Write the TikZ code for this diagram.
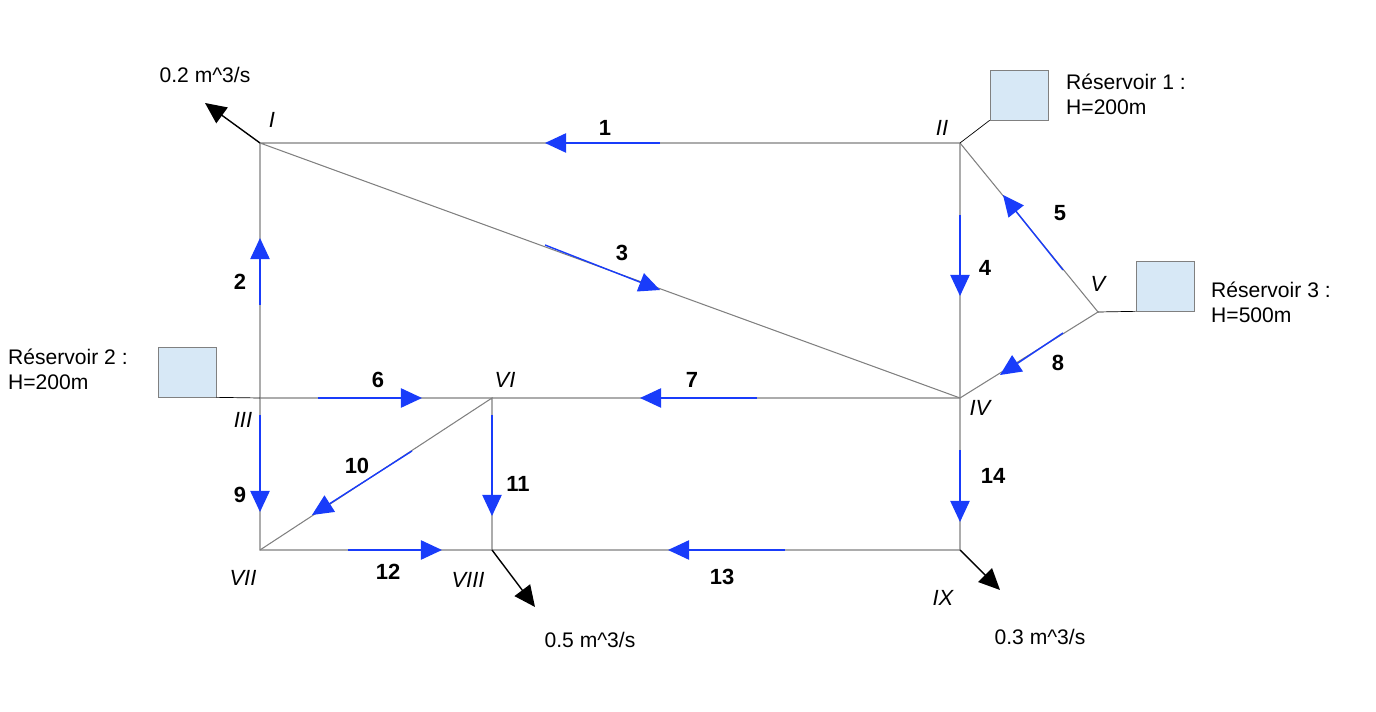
\documentclass[tikz,border=0pt]{standalone}
\usepackage{fontspec}
\setmainfont{Liberation Sans}
\usetikzlibrary{arrows.meta}
\definecolor{flowblue}{RGB}{25,60,250}
\definecolor{tankfill}{RGB}{215,232,246}
\begin{document}
\begin{tikzpicture}[
    x=0.02cm, y=-0.02cm,
    pipe/.style={gray, semithick},
    flow/.style={flowblue, thick, -{Triangle[length=12pt,width=11pt]}},
    outflow/.style={black, thick, -{Triangle[length=12pt,width=11pt]}},
    tank/.style={draw=gray, fill=tankfill},
    num/.style={font=\fontsize{12.5}{14}\selectfont\bfseries},
    junc/.style={font=\fontsize{12.5}{14}\selectfont\itshape},
    txt/.style={font=\fontsize{12}{14}\selectfont, align=left}
    ]
    \useasboundingbox (0,0) rectangle (1376,712);
    % junctions
    \coordinate (I) at (260,143);
    \coordinate (II) at (960,143);
    \coordinate (III) at (260,398);
    \coordinate (IV) at (960,398);
    \coordinate (V) at (1098,312);
    \coordinate (VI) at (492,398);
    \coordinate (VII) at (260,550);
    \coordinate (VIII) at (492,550);
    \coordinate (IX) at (960,550);

    % pipes
    \draw[pipe] (I) -- (II) -- (IV) -- (IX) -- (VII) -- (III) -- (I) -- (IV);
    \draw[pipe] (II) -- (V) -- (IV) -- (III);
    \draw[pipe] (VII) -- (VI) -- (VIII);

    % reservoirs
    \node[tank, minimum width=58*0.02cm, minimum height=50*0.02cm] (R1) at (1019,95) {};
    \node[tank, minimum width=58*0.02cm, minimum height=50*0.02cm] (R3) at (1165,286) {};
    \node[tank, minimum width=58*0.02cm, minimum height=50*0.02cm] (R2) at (187,372) {};
    \draw (II) -- (R1.south west);
    \draw (V) -- (R3.south west);
    \draw (III) -- (R2.south east);
    \node[txt, anchor=north west] (t1) at (1060,68) {Réservoir 1 :\\H=200m};
    \node[txt, anchor=north west] (t3) at (1205,276) {Réservoir 3 :\\H=500m};
    \node[txt, anchor=north west] (t2) at (2,343) {Réservoir 2 :\\H=200m};

    % flow directions
    \coordinate (a1) at (660,143);  \coordinate (b1) at (545,143);
    \coordinate (a2) at (260,305);  \coordinate (b2) at (260,238);
    \coordinate (a3) at (545,245);  \coordinate (b3) at (660,290);
    \coordinate (a4) at (960,215);  \coordinate (b4) at (960,296);
    \coordinate (a5) at (1063,270); \coordinate (b5) at (1003,195);
    \coordinate (a6) at (318,398);  \coordinate (b6) at (422,398);
    \coordinate (a7) at (757,398);  \coordinate (b7) at (640,398);
    \coordinate (a8) at (1063,333); \coordinate (b8) at (1000,375);
    \coordinate (a9) at (260,415);  \coordinate (b9) at (260,512);
    \coordinate (a10) at (412,451); \coordinate (b10) at (312,515);
    \coordinate (a11) at (492,415); \coordinate (b11) at (492,516);
    \coordinate (a12) at (348,550); \coordinate (b12) at (442,550);
    \coordinate (a13) at (785,550); \coordinate (b13) at (668,550);
    \coordinate (a14) at (960,450); \coordinate (b14) at (960,522);
    \foreach \k in {1,...,14}
        \draw[flow] (a\k) -- (b\k);

    % demands
    \coordinate (q1) at (205,103);
    \coordinate (q8) at (535,607);
    \coordinate (q9) at (1000,590);
    \draw[outflow] (I) -- (q1);
    \draw[outflow] (VIII) -- (q8);
    \draw[outflow] (IX) -- (q9);
    \node[txt] (d1) at (205,75) {0.2 m\^{}3/s};
    \node[txt] (d8) at (590,640) {0.5 m\^{}3/s};
    \node[txt] (d9) at (1040,637) {0.3 m\^{}3/s};

    % pipe numbers
    \foreach \n/\x/\y in {1/605/128, 2/240/282, 3/622/253, 4/985/268, 5/1060/213,
        6/378/380, 7/692/380, 8/1058/363, 9/240/495, 10/357/466, 11/518/484,
        12/388/572, 13/722/577, 14/993/476}
        \node[num] (n\n) at (\x,\y) {\n};

    % junction names
    \foreach \n/\x/\y in {I/272/120, II/942/128, III/243/420, IV/980/408, V/1098/284,
        VI/505/380, VII/243/578, VIII/468/580, IX/943/598}
        \node[junc] (j\n) at (\x,\y) {\n};
\end{tikzpicture}
\end{document}
